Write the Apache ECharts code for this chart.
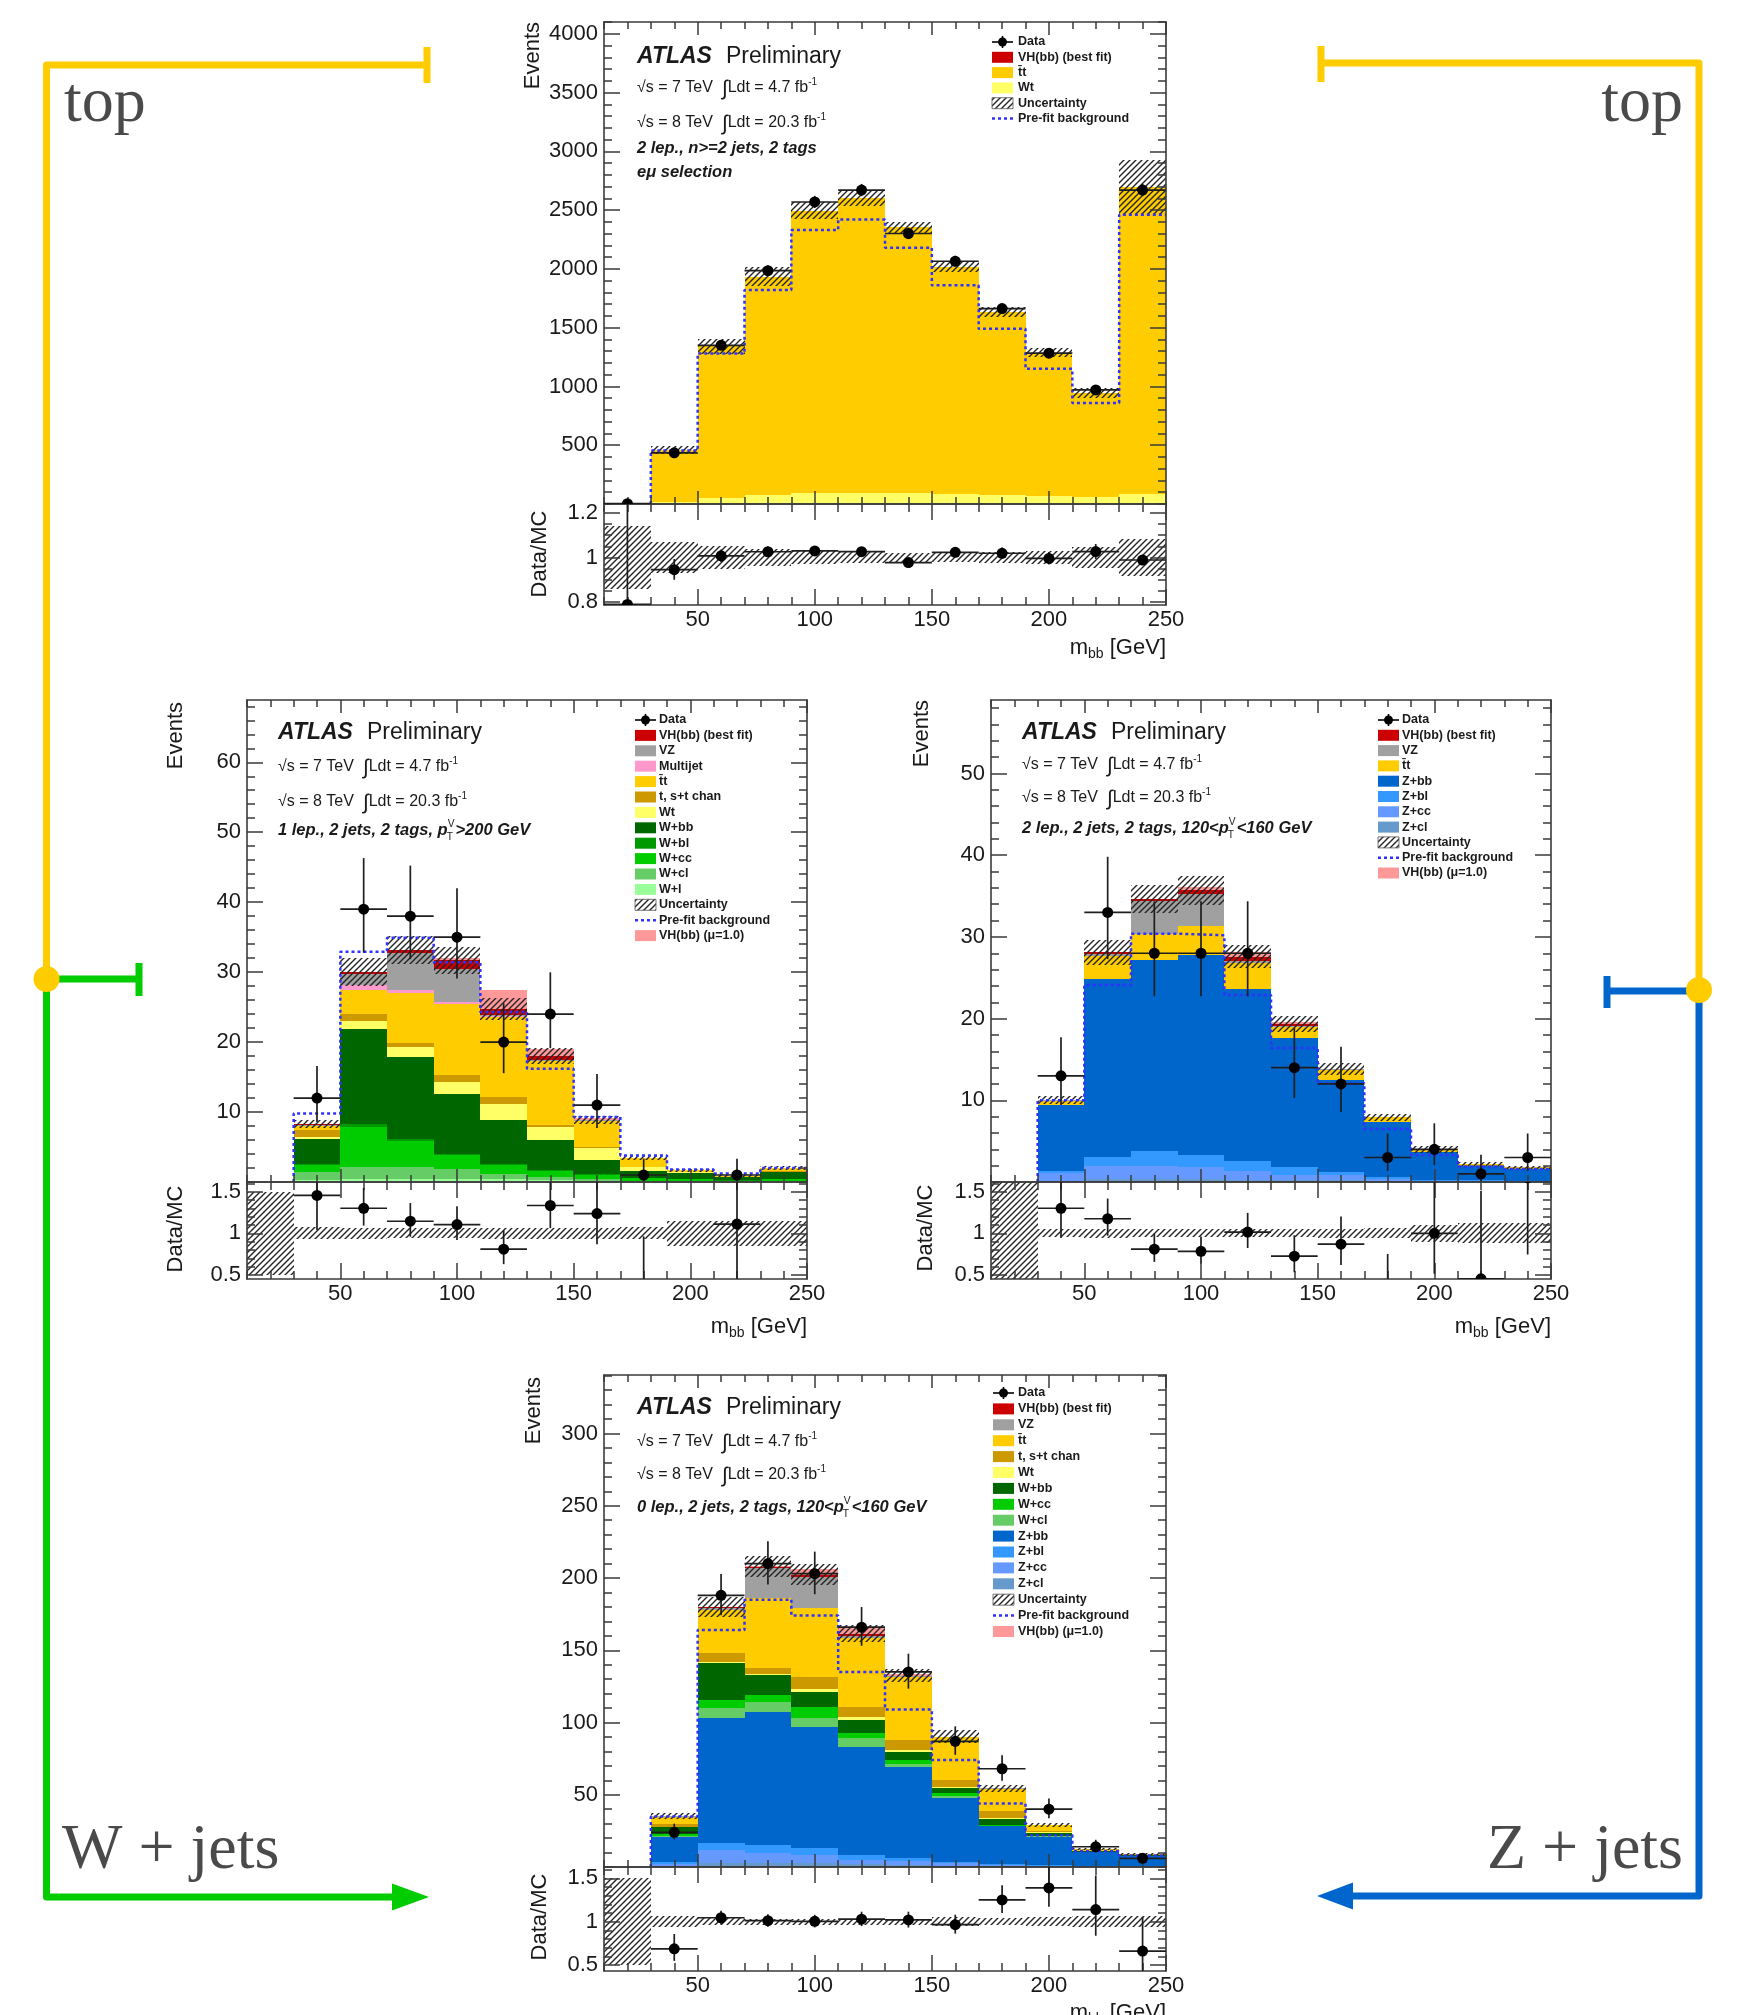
<!DOCTYPE html>
<html>
<head>
<meta charset="utf-8">
<script src="https://cdn.jsdelivr.net/npm/echarts@6/dist/echarts.min.js"></script>
<style>
  html, body { margin: 0; padding: 0; background: #fff; }
  #c { width: 1757px; height: 2015px; }
</style>
</head>
<body>
<div id="c"></div>
<script>
// ---------------- binning and axis labels ----------------
const MBB_EDGES = [10, 30, 50, 70, 90, 110, 130, 150, 170, 190, 210, 230, 250];
const MBB_TICKS = [50, 100, 150, 200, 250];

// ---------------- top control region: 2 lep., e-mu selection ----------------
const TOP_WT     = [0.8, 20, 55, 80, 95, 95, 90, 85, 75, 70, 60, 85];
const TOP_TTBAR  = [3, 440, 1285, 1855, 2400, 2507, 2265, 1933, 1556, 1218, 885, 2615];
const TOP_DATA   = [3, 435, 1350, 1985, 2569, 2670, 2301, 2065, 1662, 1283, 970, 2670];
const TOP_PREFIT = [0, 455, 1280, 1820, 2330, 2420, 2180, 1860, 1490, 1150, 860, 2460];
const TOP_UNC    = [0.14, 0.07, 0.05, 0.04, 0.03, 0.025, 0.02, 0.02, 0.025, 0.03, 0.045, 0.085];
const TOP_Y_TICKS = [500, 1000, 1500, 2000, 2500, 3000, 3500, 4000];
const TOP_R_TICKS = [0.8, 1, 1.2];

// ---------------- W+jets region: 1 lep., 2 jets, 2 tags, pTV > 200 GeV ----------------
const W1_WL   = [0, 0.3, 0.4, 0.5, 0.5, 0.4, 0.3, 0.2, 0.1, 0.1, 0.05, 0.1];
const W1_WCL  = [0, 1.2, 1.7, 1.65, 1.4, 0.8, 0.4, 0.3, 0.1, 0.1, 0.05, 0.1];
const W1_WCC  = [0, 0.9, 5.8, 3.75, 1.9, 1.2, 0.9, 0.5, 0.35, 0.2, 0.1, 0.2];
const W1_WBL  = [0, 0.2, 0.4, 0.3, 0.25, 0.2, 0.1, 0.1, 0.05, 0.05, 0.05, 0.05];
const W1_WBB  = [0, 3.6, 13.5, 11.7, 8.55, 6.2, 4.3, 2.0, 1.0, 0.85, 0.45, 0.95];
const W1_WT   = [0, 0.2, 1.2, 1.4, 1.7, 2.4, 1.8, 1.7, 0.5, 0.1, 0.05, 0.1];
const W1_TST  = [0, 1.0, 1.0, 0.5, 1.0, 0.9, 0.3, 0.2, 0.1, 0.05, 0, 0.05];
const W1_TT   = [0, 0.6, 3.4, 7.2, 10.2, 11.5, 9.2, 3.7, 1.2, 0.2, 0.15, 0.4];
const W1_MJ   = [0, 0, 0.7, 0.5, 0.2, 0.1, 0, 0, 0, 0, 0, 0];
const W1_VZ   = [0, 0.2, 1.6, 5.3, 4.8, 0.2, 0.2, 0.1, 0.05, 0, 0, 0];
const W1_VH   = [0, 0.05, 0.3, 0.4, 1.2, 0.8, 0.5, 0.1, 0, 0, 0, 0];
const W1_VH1  = [0, 0, 0, 0, 0.3, 2.8, 1.0, 0.2, 0, 0, 0, 0];
const W1_DATA = [0, 12, 39, 38, 35, 20, 24, 11, 1, 0, 1, 0];
const W1_PREFIT = [0, 9.8, 32.9, 34.9, 31.4, 24.3, 16.2, 9.3, 3.8, 1.8, 1.2, 2.0];
const W1_UNC  = [0.5, 0.07, 0.065, 0.06, 0.06, 0.065, 0.065, 0.065, 0.07, 0.15, 0.15, 0.15];
const W1_Y_TICKS = [10, 20, 30, 40, 50, 60];
const W1_R_TICKS = [0.5, 1, 1.5];

// ---------------- Z+jets region: 2 lep., 2 jets, 2 tags, 120 < pTV < 160 GeV ----------------
const Z2_ZCL  = [0, 0.1, 0.4, 0.4, 0.4, 0.3, 0.2, 0.2, 0.1, 0.05, 0.05, 0.05];
const Z2_ZCC  = [0, 1.0, 1.5, 1.6, 1.4, 1.0, 0.7, 0.6, 0.3, 0.1, 0.1, 0.05];
const Z2_ZBL  = [0, 0.2, 1.2, 1.8, 1.5, 1.3, 0.9, 0.4, 0.2, 0.1, 0.05, 0.05];
const Z2_ZBB  = [0, 8.1, 21.8, 23.4, 24.5, 21.0, 15.8, 11.3, 6.8, 3.45, 1.8, 1.45];
const Z2_TT   = [0, 0.5, 2.8, 3.2, 3.5, 3.2, 1.4, 1.2, 0.5, 0.3, 0.2, 0.2];
const Z2_VZ   = [0, 0.1, 0.2, 4.0, 3.9, 0.3, 0.1, 0.1, 0, 0, 0, 0];
const Z2_VH   = [0, 0, 0.2, 0.2, 0.5, 0.5, 0.2, 0, 0, 0, 0, 0];
const Z2_VH1  = [0, 0, 0, 0, 0.4, 0.6, 0.3, 0, 0, 0, 0, 0];
const Z2_DATA = [0, 13, 33, 28, 28, 28, 14, 12, 3, 4, 1, 3];
const Z2_PREFIT = [0, 10.0, 24.1, 30.4, 30.2, 22.9, 16.4, 12.1, 6.5, 3.3, 1.9, 1.6];
const Z2_UNC  = [0.62, 0.05, 0.055, 0.05, 0.05, 0.05, 0.05, 0.055, 0.06, 0.1, 0.12, 0.12];
const Z2_Y_TICKS = [10, 20, 30, 40, 50];
const Z2_R_TICKS = [0.5, 1, 1.5];

// ---------------- 0 lep., 2 jets, 2 tags, 120 < pTV < 160 GeV ----------------
const L0_ZCL  = [0, 0.3, 2.5, 2.5, 2.5, 2.0, 1.5, 1.0, 0.5, 0.3, 0.2, 0.1];
const L0_ZCC  = [0, 1.5, 9.2, 6.9, 5.8, 3.0, 2.5, 1.5, 0.8, 0.5, 0.3, 0.3];
const L0_ZBL  = [0, 1.5, 4.7, 5.8, 4.6, 3.3, 2.0, 1.2, 0.5, 0.3, 0.2, 0.1];
const L0_ZBB  = [0, 17.7, 86.5, 92.3, 84.2, 75.0, 62.9, 43.8, 26.6, 20.0, 9.5, 7.2];
const L0_WCL  = [0, 0.2, 6.9, 7.0, 5.8, 5.7, 2.5, 1.5, 0.3, 0.2, 0.1, 0.1];
const L0_WCC  = [0, 1.5, 5.8, 4.5, 8.1, 3.5, 2.6, 2.0, 0.7, 0.3, 0.2, 0.1];
const L0_WBB  = [0, 5.0, 25.4, 13.9, 10.3, 9.2, 5.8, 3.6, 3.6, 2.0, 0.5, 0.3];
const L0_WT   = [0, 0.3, 1.0, 1.0, 2.2, 2.3, 1.2, 1.0, 1.0, 0.4, 0.1, 0.1];
const L0_TST  = [0, 1.5, 6.0, 3.6, 8.1, 7.0, 6.9, 4.6, 4.7, 1.0, 0.2, 0.1];
const L0_TT   = [0, 5.2, 30.0, 48.5, 47.4, 47.5, 43.8, 29.5, 15.5, 3.8, 1.0, 0.7];
const L0_VZ   = [0, 0.3, 1.5, 21.0, 21.9, 1.5, 0.3, 0.3, 0.2, 0, 0, 0];
const L0_VH   = [0, 0, 0.5, 0.8, 1.5, 1.5, 0.5, 0.2, 0, 0, 0, 0];
const L0_VH1  = [0, 0, 0, 0.5, 4.0, 4.0, 1.0, 0, 0, 0, 0, 0];
const L0_DATA = [0, 24, 188, 210, 203, 166, 135, 87, 68, 40, 14, 6];
const L0_PREFIT = [0, 35, 164, 185, 174, 135, 109, 74, 44, 22, 11, 8];
const L0_UNC  = [0.5, 0.06, 0.04, 0.035, 0.035, 0.035, 0.035, 0.05, 0.04, 0.05, 0.06, 0.06];
const L0_Y_TICKS = [50, 100, 150, 200, 250, 300];
const L0_R_TICKS = [0.5, 1, 1.5];

// ---------------- styling ----------------
const FONT = '"Liberation Sans", Arial, Helvetica, sans-serif';
const SERIF = '"Liberation Serif", "Times New Roman", serif';
const INK = '#1a1a1a';
const FRAME = '#3a3a3a';
const COL = {
  VH: '#cc0000', VZ: '#a0a0a0', MJ: '#ff99cc', TT: '#ffcc00', TST: '#cc9900', WT: '#ffff66',
  WBB: '#006600', WBL: '#009900', WCC: '#00cc00', WCL: '#66cc66', WL: '#99ff99',
  ZBB: '#0066cc', ZBL: '#3399ff', ZCC: '#6699ff', ZCL: '#6699cc', VH1: '#ff9999', PRE: '#3030ff'
};

// pad geometry (pixels) and axis ranges
const LAYOUT = {
  top:   { left: 604, width: 562, mainTop: 22,   mainH: 482, ratioH: 101, yMax: 4100, yMinor: 100, rMin: 0.787, rMax: 1.240, rMinor: 0.05 },
  wjets: { left: 247, width: 560, mainTop: 700,  mainH: 482, ratioH: 97,  yMax: 68.9, yMinor: 2,   rMin: 0.452, rMax: 1.615, rMinor: 0.1 },
  zjets: { left: 991, width: 560, mainTop: 700,  mainH: 482, ratioH: 97,  yMax: 59.0, yMinor: 2,   rMin: 0.452, rMax: 1.615, rMinor: 0.1 },
  zero:  { left: 604, width: 562, mainTop: 1375, mainH: 492, ratioH: 104, yMax: 340.5, yMinor: 10, rMin: 0.43, rMax: 1.63, rMinor: 0.1 }
};

const LEG_DATA = ['Data', 'data'];
const LEG_UNC = ['Uncertainty', 'hatch'];
const LEG_PRE = ['Pre-fit background', 'dots'];
const LEG_VH = ['VH(bb) (best fit)', 'fill', COL.VH];
const LEG_VH1 = ['VH(bb) (\u03bc=1.0)', 'fill', COL.VH1];

const PANELS = [
  {
    L: LAYOUT.top,
    stack: [[COL.WT, TOP_WT], [COL.TT, TOP_TTBAR]],
    vh1: null, data: TOP_DATA, prefit: TOP_PREFIT, unc: TOP_UNC,
    yTicks: TOP_Y_TICKS, rTicks: TOP_R_TICKS,
    text: { x: 637, ys: [57, 88, 123, 148, 172] },
    sel: [[{ t: '2 lep., n>=2 jets, 2 tags', bi: true }], [{ t: 'e\u03bc selection', bi: true }]],
    legend: { bx: 992, tx: 1018, y0: 42, step: 15.3,
      items: [LEG_DATA, LEG_VH, ['t\u0304t', 'fill', COL.TT], ['Wt', 'fill', COL.WT], LEG_UNC, LEG_PRE] },
    titles: { ev: [533, 22], dm: [540, 554], mbbY: 648 }
  },
  {
    L: LAYOUT.wjets,
    stack: [[COL.WL, W1_WL], [COL.WCL, W1_WCL], [COL.WCC, W1_WCC], [COL.WBL, W1_WBL], [COL.WBB, W1_WBB],
            [COL.WT, W1_WT], [COL.TST, W1_TST], [COL.TT, W1_TT], [COL.MJ, W1_MJ], [COL.VZ, W1_VZ], [COL.VH, W1_VH]],
    vh1: W1_VH1, data: W1_DATA, prefit: W1_PREFIT, unc: W1_UNC,
    yTicks: W1_Y_TICKS, rTicks: W1_R_TICKS,
    text: { x: 278, ys: [733, 767, 802, 830] },
    sel: [[{ t: '1 lep., 2 jets, 2 tags, ', bi: true }, { t: 'p', bi: true }, { stack: ['V', 'T'] }, { t: '>200 GeV', bi: true }]],
    legend: { bx: 635, tx: 659, y0: 720, step: 15.4,
      items: [LEG_DATA, LEG_VH, ['VZ', 'fill', COL.VZ], ['Multijet', 'fill', COL.MJ], ['t\u0304t', 'fill', COL.TT],
              ['t, s+t chan', 'fill', COL.TST], ['Wt', 'fill', COL.WT], ['W+bb', 'fill', COL.WBB], ['W+bl', 'fill', COL.WBL],
              ['W+cc', 'fill', COL.WCC], ['W+cl', 'fill', COL.WCL], ['W+l', 'fill', COL.WL], LEG_UNC, LEG_PRE, LEG_VH1] },
    titles: { ev: [176, 702], dm: [176, 1229], mbbY: 1327 }
  },
  {
    L: LAYOUT.zjets,
    stack: [[COL.ZCL, Z2_ZCL], [COL.ZCC, Z2_ZCC], [COL.ZBL, Z2_ZBL], [COL.ZBB, Z2_ZBB],
            [COL.TT, Z2_TT], [COL.VZ, Z2_VZ], [COL.VH, Z2_VH]],
    vh1: Z2_VH1, data: Z2_DATA, prefit: Z2_PREFIT, unc: Z2_UNC,
    yTicks: Z2_Y_TICKS, rTicks: Z2_R_TICKS,
    text: { x: 1022, ys: [733, 765, 798, 828] },
    sel: [[{ t: '2 lep., 2 jets, 2 tags, 120<', bi: true }, { t: 'p', bi: true }, { stack: ['V', 'T'] }, { t: '<160 GeV', bi: true }]],
    legend: { bx: 1378, tx: 1402, y0: 720, step: 15.3,
      items: [LEG_DATA, LEG_VH, ['VZ', 'fill', COL.VZ], ['t\u0304t', 'fill', COL.TT], ['Z+bb', 'fill', COL.ZBB],
              ['Z+bl', 'fill', COL.ZBL], ['Z+cc', 'fill', COL.ZCC], ['Z+cl', 'fill', COL.ZCL], LEG_UNC, LEG_PRE, LEG_VH1] },
    titles: { ev: [922, 700], dm: [926, 1228], mbbY: 1327 }
  },
  {
    L: LAYOUT.zero,
    stack: [[COL.ZCL, L0_ZCL], [COL.ZCC, L0_ZCC], [COL.ZBL, L0_ZBL], [COL.ZBB, L0_ZBB], [COL.WCL, L0_WCL],
            [COL.WCC, L0_WCC], [COL.WBB, L0_WBB], [COL.WT, L0_WT], [COL.TST, L0_TST], [COL.TT, L0_TT],
            [COL.VZ, L0_VZ], [COL.VH, L0_VH]],
    vh1: L0_VH1, data: L0_DATA, prefit: L0_PREFIT, unc: L0_UNC,
    yTicks: L0_Y_TICKS, rTicks: L0_R_TICKS,
    text: { x: 637, ys: [1408, 1442, 1475, 1507] },
    sel: [[{ t: '0 lep., 2 jets, 2 tags, 120<', bi: true }, { t: 'p', bi: true }, { stack: ['V', 'T'] }, { t: '<160 GeV', bi: true }]],
    legend: { bx: 993, tx: 1018, y0: 1393, step: 15.9,
      items: [LEG_DATA, LEG_VH, ['VZ', 'fill', COL.VZ], ['t\u0304t', 'fill', COL.TT], ['t, s+t chan', 'fill', COL.TST],
              ['Wt', 'fill', COL.WT], ['W+bb', 'fill', COL.WBB], ['W+cc', 'fill', COL.WCC], ['W+cl', 'fill', COL.WCL],
              ['Z+bb', 'fill', COL.ZBB], ['Z+bl', 'fill', COL.ZBL], ['Z+cc', 'fill', COL.ZCC], ['Z+cl', 'fill', COL.ZCL],
              LEG_UNC, LEG_PRE, LEG_VH1] },
    titles: { ev: [534, 1377], dm: [540, 1917], mbbY: 2013 }
  }
];

// ---------------- helpers ----------------
function makeHatch(size, color, width) {
  const c = document.createElement('canvas');
  c.width = size; c.height = size;
  const g = c.getContext('2d');
  g.strokeStyle = color; g.lineWidth = width;
  g.beginPath();
  g.moveTo(-1, size + 1); g.lineTo(size + 1, -1);
  g.moveTo(-size / 2 - 1, size / 2 + 1); g.lineTo(size / 2 + 1, -size / 2 - 1);
  g.moveTo(size / 2 - 1, size * 1.5 + 1); g.lineTo(size * 1.5 + 1, size / 2 - 1);
  g.stroke();
  return c;
}
const HATCH = makeHatch(6, '#242424', 1.4);
const hatchFill = () => ({ image: HATCH, repeat: 'repeat' });

// Poisson (Gehrels) interval for observed counts
const poisUp = n => n + Math.sqrt(n + 0.75) + 1;
const poisLo = n => (n > 0 ? n - Math.sqrt(Math.max(n - 0.25, 0)) : 0);

function rectSeries(data, fill, xi, yi, z) {
  return {
    type: 'custom', coordinateSystem: 'cartesian2d', xAxisIndex: xi, yAxisIndex: yi,
    data, z, silent: true, animation: false, clip: true,
    encode: { x: [0, 1], y: [2, 3] },
    renderItem: (params, api) => {
      const a = api.coord([api.value(0), api.value(3)]);
      const b = api.coord([api.value(1), api.value(2)]);
      const x0 = Math.round(a[0]), x1 = Math.round(b[0]);
      const y0 = Math.round(a[1]), y1 = Math.round(b[1]);
      return { type: 'rect', shape: { x: x0, y: y0, width: x1 - x0, height: y1 - y0 },
               style: { fill: typeof fill === 'function' ? fill() : fill } };
    }
  };
}

function pointSeries(points, xi, yi) {
  return {
    type: 'custom', coordinateSystem: 'cartesian2d', xAxisIndex: xi, yAxisIndex: yi,
    data: points, z: 8, silent: true, animation: false, clip: true,
    encode: { x: 0, y: 1 },
    renderItem: (params, api) => {
      const x = api.value(0), y = api.value(1);
      const c = api.coord([x, y]);
      const lo = api.coord([x, api.value(2)]), hi = api.coord([x, api.value(3)]);
      const a = api.coord([api.value(4), y]), b = api.coord([api.value(5), y]);
      return { type: 'group', children: [
        { type: 'line', shape: { x1: c[0], y1: lo[1], x2: c[0], y2: hi[1] }, style: { stroke: '#1e1e1e', lineWidth: 1.7 } },
        { type: 'line', shape: { x1: a[0], y1: c[1], x2: b[0], y2: c[1] }, style: { stroke: '#1e1e1e', lineWidth: 1.7 } },
        { type: 'circle', shape: { cx: c[0], cy: c[1], r: 5.5 }, style: { fill: '#000' } }
      ] };
    }
  };
}

function valueAxis(o) {
  return Object.assign({
    type: 'value', silent: true, z: 6,
    axisLine: { show: false, onZero: false },
    splitLine: { show: false },
    axisTick: { show: false },
    axisLabel: { show: false },
    axisPointer: { show: false }
  }, o);
}
const tickSpec = (vals, len) => ({ show: true, inside: true, length: len, customValues: vals,
                                   lineStyle: { color: FRAME, width: 1.5 } });
const frameLine = { show: true, onZero: false, lineStyle: { color: FRAME, width: 1.6 } };
const labelSpec = (vals, margin) => ({ show: true, customValues: vals, margin, fontSize: 22, fontFamily: FONT,
                                       color: INK, formatter: v => String(v) });
function minorValues(lo, hi, step, majors) {
  const out = [];
  const start = Math.ceil(lo / step - 1e-9);
  for (let k = start; k * step <= hi + 1e-9; k++) {
    const v = +(k * step).toFixed(6);
    if (v >= lo - 1e-9 && v <= hi + 1e-9 && !majors.some(m => Math.abs(m - v) < 1e-9)) out.push(v);
  }
  return out;
}

const mctx = document.createElement('canvas').getContext('2d');
function textW(t, size, weight, style, family) {
  mctx.font = `${style || 'normal'} ${weight || 'normal'} ${size}px ${family || FONT}`;
  return mctx.measureText(t).width;
}
function txt(x, y, text, size, o) {
  o = o || {};
  return { type: 'text', x, y, rotation: o.rot || 0, silent: true, z: 30,
    style: { text, fontSize: size, fontFamily: o.family || FONT, fontWeight: o.weight || 'normal',
             fontStyle: o.style || 'normal', fill: o.color || INK, align: o.align || 'left',
             verticalAlign: o.va || 'middle' } };
}
// text run built from pieces of different size / offset
function run(x, y, parts, align) {
  const widths = parts.map(p => {
    if (p.gap) return p.gap;
    const size = p.size || 16;
    const w = p.bi ? 'bold' : (p.weight || 'normal'), s = p.bi ? 'italic' : (p.style || 'normal');
    if (p.stack) return Math.max(...p.stack.map(t => textW(t, size * 0.62, w, s))) + 1;
    return textW(p.t, size, w, s);
  });
  const total = widths.reduce((a, b) => a + b, 0);
  let cx = align === 'right' ? x - total : x;
  const els = [];
  parts.forEach((p, i) => {
    if (!p.gap) {
      const size = p.size || 16;
      const o = { weight: p.bi ? 'bold' : (p.weight || 'normal'), style: p.bi ? 'italic' : (p.style || 'normal') };
      if (p.stack) {
        els.push(txt(cx, y - 6, p.stack[0], size * 0.62, o));
        els.push(txt(cx - 1, y + 7, p.stack[1], size * 0.62, o));
      } else {
        els.push(txt(cx, y + (p.dy || 0), p.t, size, o));
      }
    }
    cx += widths[i];
  });
  return els;
}
function lumiLine(x, y, energy, lumi) {
  return run(x, y, [
    { t: '\u221As = ' + energy + ' TeV', size: 16 }, { gap: 9 },
    { t: '\u222B', size: 21, dy: 1 }, { t: 'Ldt = ' + lumi + ' fb', size: 16 },
    { t: '-1', size: 10, dy: -6 }
  ]);
}

// ---------------- build option ----------------
const grids = [], xAxes = [], yAxes = [], series = [], graphics = [];
const NB = MBB_EDGES.length - 1;
const X_MINOR = minorValues(10, 250, 10, MBB_TICKS);

function addAxes(g, isRatio, yMin, yMax, yMajor, yMinorStep) {
  const xMaj = isRatio ? 16 : 13, xMin = isRatio ? 8 : 7;
  const yMinorVals = minorValues(yMin, yMax, yMinorStep, yMajor);
  const xb = { gridIndex: g, min: 10, max: 250 };
  xAxes.push(valueAxis(Object.assign({ position: 'bottom', axisLine: frameLine, axisTick: tickSpec(MBB_TICKS, xMaj),
    axisLabel: isRatio ? labelSpec(MBB_TICKS, 4) : { show: false } }, xb)));
  xAxes.push(valueAxis(Object.assign({ position: 'top', axisLine: frameLine, axisTick: tickSpec(MBB_TICKS, xMaj) }, xb)));
  xAxes.push(valueAxis(Object.assign({ position: 'bottom', axisTick: tickSpec(X_MINOR, xMin) }, xb)));
  xAxes.push(valueAxis(Object.assign({ position: 'top', axisTick: tickSpec(X_MINOR, xMin) }, xb)));
  const yb = { gridIndex: g, min: yMin, max: yMax };
  yAxes.push(valueAxis(Object.assign({ position: 'left', axisLine: frameLine, axisTick: tickSpec(yMajor, 16),
    axisLabel: labelSpec(yMajor, 6) }, yb)));
  yAxes.push(valueAxis(Object.assign({ position: 'right', axisLine: frameLine, axisTick: tickSpec(yMajor, 16) }, yb)));
  yAxes.push(valueAxis(Object.assign({ position: 'left', axisTick: tickSpec(yMinorVals, 8) }, yb)));
  yAxes.push(valueAxis(Object.assign({ position: 'right', axisTick: tickSpec(yMinorVals, 8) }, yb)));
}

PANELS.forEach((P, k) => {
  const L = P.L;
  const gMain = 2 * k, gRatio = 2 * k + 1;
  grids.push({ left: L.left, top: L.mainTop, width: L.width, height: L.mainH, show: false });
  grids.push({ left: L.left, top: L.mainTop + L.mainH, width: L.width, height: L.ratioH, show: false });
  addAxes(gMain, false, 0, L.yMax, P.yTicks, L.yMinor);
  addAxes(gRatio, true, L.rMin, L.rMax, P.rTicks, L.rMinor);
  const xm = 4 * gMain, ym = 4 * gMain, xr = 4 * gRatio, yr = 4 * gRatio;

  // stacked backgrounds and signal
  const total = new Array(NB).fill(0);
  P.stack.forEach(([color, vals]) => {
    const d = [];
    vals.forEach((v, i) => {
      if (v > 0) d.push([MBB_EDGES[i], MBB_EDGES[i + 1], total[i], total[i] + v]);
      total[i] += v;
    });
    series.push(rectSeries(d, color, xm, ym, 2));
  });
  // VH(bb) with mu = 1 on top of the stack
  if (P.vh1) {
    const d = [];
    P.vh1.forEach((v, i) => { if (v > 0) d.push([MBB_EDGES[i], MBB_EDGES[i + 1], total[i], total[i] + v]); });
    series.push(rectSeries(d, COL.VH1, xm, ym, 2));
  }
  // uncertainty band on the prediction
  const band = [];
  total.forEach((t, i) => { if (t > 0) band.push([MBB_EDGES[i], MBB_EDGES[i + 1], t * (1 - P.unc[i]), t * (1 + P.unc[i])]); });
  series.push(rectSeries(band, hatchFill, xm, ym, 3));

  // pre-fit background outline
  const i0 = P.prefit.findIndex(v => v > 0);
  const pre = [[MBB_EDGES[i0], 0]];
  for (let i = i0; i < NB; i++) pre.push([MBB_EDGES[i], P.prefit[i]]);
  pre.push([MBB_EDGES[NB], P.prefit[NB - 1]]);
  series.push({ type: 'line', xAxisIndex: xm, yAxisIndex: ym, data: pre, step: 'end', symbol: 'none',
    silent: true, animation: false, z: 4, clip: true,
    lineStyle: { color: COL.PRE, width: 2.5, type: [3, 3] } });

  // data points
  const pts = [], rpts = [];
  P.data.forEach((n, i) => {
    if (n <= 0) return;
    const xc = (MBB_EDGES[i] + MBB_EDGES[i + 1]) / 2;
    pts.push([xc, n, poisLo(n), poisUp(n), MBB_EDGES[i], MBB_EDGES[i + 1]]);
    if (total[i] > 0) rpts.push([xc, n / total[i], poisLo(n) / total[i], poisUp(n) / total[i], MBB_EDGES[i], MBB_EDGES[i + 1]]);
  });
  series.push(pointSeries(pts, xm, ym));

  // ratio pad
  const rband = P.unc.map((u, i) => [MBB_EDGES[i], MBB_EDGES[i + 1], 1 - u, 1 + u]);
  series.push(rectSeries(rband, hatchFill, xr, yr, 3));
  series.push(pointSeries(rpts, xr, yr));

  // labels inside the pad
  const T = P.text;
  graphics.push(...run(T.x, T.ys[0], [{ t: 'ATLAS', size: 23, bi: true }, { gap: 14 }, { t: 'Preliminary', size: 23 }]));
  graphics.push(...lumiLine(T.x, T.ys[1], '7', '4.7'));
  graphics.push(...lumiLine(T.x, T.ys[2], '8', '20.3'));
  P.sel.forEach((parts, j) => graphics.push(...run(T.x, T.ys[3 + j], parts.map(p => Object.assign({ size: 16.5 }, p)))));

  // legend
  const G = P.legend;
  G.items.forEach(([label, kind, color], j) => {
    const y = G.y0 + j * G.step;
    const bx = G.bx, bw = 21, bh = 11;
    if (kind === 'fill') {
      graphics.push({ type: 'rect', shape: { x: bx, y: y - bh / 2, width: bw, height: bh }, style: { fill: color }, silent: true, z: 30 });
    } else if (kind === 'hatch') {
      graphics.push({ type: 'rect', shape: { x: bx, y: y - bh / 2, width: bw, height: bh }, style: { fill: hatchFill(), stroke: '#555', lineWidth: 0.8 }, silent: true, z: 30 });
    } else if (kind === 'dots') {
      graphics.push({ type: 'line', shape: { x1: bx, y1: y, x2: bx + bw, y2: y }, style: { stroke: COL.PRE, lineWidth: 2.5, lineDash: [3, 3] }, silent: true, z: 30 });
    } else {
      graphics.push({ type: 'line', shape: { x1: bx, y1: y, x2: bx + bw, y2: y }, style: { stroke: '#000', lineWidth: 1.6 }, silent: true, z: 30 });
      graphics.push({ type: 'line', shape: { x1: bx + bw / 2, y1: y - 6, x2: bx + bw / 2, y2: y + 6 }, style: { stroke: '#000', lineWidth: 1.6 }, silent: true, z: 30 });
      graphics.push({ type: 'circle', shape: { cx: bx + bw / 2, cy: y, r: 4.5 }, style: { fill: '#000' }, silent: true, z: 30 });
    }
    graphics.push(txt(G.tx, y, label, 12.5, { weight: 'bold' }));
  });

  // axis titles
  const TT = P.titles;
  graphics.push(txt(TT.ev[0], TT.ev[1], 'Events', 22, { rot: Math.PI / 2, align: 'right' }));
  graphics.push(txt(TT.dm[0], TT.dm[1], 'Data/MC', 22, { rot: Math.PI / 2, align: 'center' }));
  graphics.push(...run(L.left + L.width, TT.mbbY, [{ t: 'm', size: 22 }, { t: 'bb', size: 14, dy: 6 }, { t: ' [GeV]', size: 22 }], 'right'));
});

// ---------------- connecting arrows between the regions ----------------
const YEL = '#ffcc00', GRN = '#00cc00', BLU = '#0066cc';
const stroke = (c, extra) => Object.assign({ stroke: c, lineWidth: 7, fill: null, lineJoin: 'round' }, extra || {});
graphics.push(
  { type: 'polyline', shape: { points: [[427, 65], [46.5, 65], [46.5, 979]] }, style: stroke(YEL), silent: true },
  { type: 'line', shape: { x1: 427, y1: 47, x2: 427, y2: 83 }, style: stroke(YEL), silent: true },
  { type: 'polyline', shape: { points: [[46.5, 979], [46.5, 1897], [396, 1897]] }, style: stroke(GRN), silent: true },
  { type: 'polygon', shape: { points: [[392, 1883.5], [429, 1897], [392, 1910.5]] }, style: { fill: GRN }, silent: true },
  { type: 'line', shape: { x1: 46.5, y1: 979, x2: 139, y2: 979 }, style: stroke(GRN), silent: true },
  { type: 'line', shape: { x1: 139, y1: 963, x2: 139, y2: 996 }, style: stroke(GRN), silent: true },
  { type: 'circle', shape: { cx: 46.5, cy: 979, r: 13 }, style: { fill: YEL }, silent: true },

  { type: 'polyline', shape: { points: [[1321, 63], [1699, 63], [1699, 990]] }, style: stroke(YEL), silent: true },
  { type: 'line', shape: { x1: 1321, y1: 46, x2: 1321, y2: 82 }, style: stroke(YEL), silent: true },
  { type: 'polyline', shape: { points: [[1699, 990], [1699, 1896], [1350, 1896]] }, style: stroke(BLU), silent: true },
  { type: 'polygon', shape: { points: [[1353, 1882.5], [1317, 1896], [1353, 1909.5]] }, style: { fill: BLU }, silent: true },
  { type: 'line', shape: { x1: 1699, y1: 991, x2: 1607, y2: 991 }, style: stroke(BLU), silent: true },
  { type: 'line', shape: { x1: 1607, y1: 976, x2: 1607, y2: 1008 }, style: stroke(BLU), silent: true },
  { type: 'circle', shape: { cx: 1699, cy: 990, r: 13 }, style: { fill: YEL }, silent: true },

  txt(64, 104, 'top', 64, { family: SERIF, color: '#4a4a4a' }),
  txt(1683, 104, 'top', 64, { family: SERIF, color: '#4a4a4a', align: 'right' }),
  txt(62, 1851, 'W + jets', 64, { family: SERIF, color: '#4a4a4a' }),
  txt(1683, 1851, 'Z + jets', 64, { family: SERIF, color: '#4a4a4a', align: 'right' })
);

const chart = echarts.init(document.getElementById('c'), null, { renderer: 'canvas', width: 1757, height: 2015 });
chart.setOption({
  animation: false,
  backgroundColor: '#ffffff',
  grid: grids,
  xAxis: xAxes,
  yAxis: yAxes,
  series,
  graphic: { elements: graphics }
});
</script>
</body>
</html>
